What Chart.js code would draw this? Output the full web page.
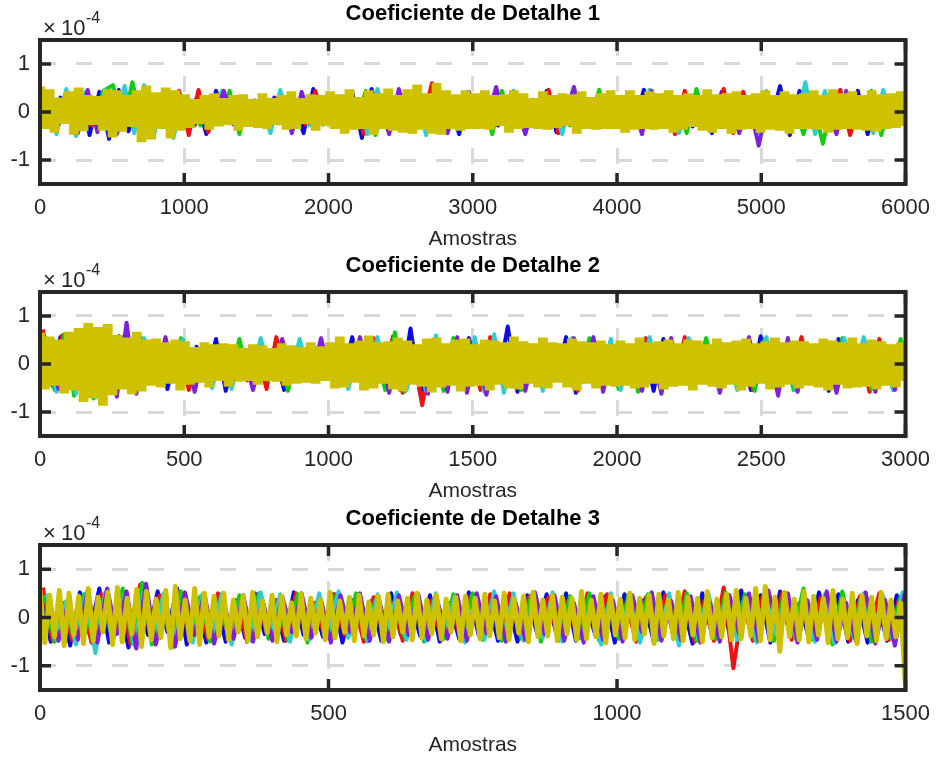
<!DOCTYPE html>
<html lang="pt-br">

<head>
    <meta charset="UTF-8">
    <title>Coeficientes de Detalhe</title>
    <script src="https://cdn.jsdelivr.net/npm/chart.js"></script>
    <style>
        body { margin: 0; background: #fff; }
        .painel { position: absolute; left: 0; }
    </style>
</head>

<body>
    <canvas id="detalhe1" class="painel" width="941" height="252" style="top:0px"></canvas>
    <canvas id="detalhe2" class="painel" width="941" height="252" style="top:252px"></canvas>
    <canvas id="detalhe3" class="painel" width="941" height="253" style="top:505px"></canvas>
</body>

</html>

<script>
    // valores em unidades de 1e-6 (o eixo mostra x10^-4, por isso divide por 100)
    const ticksY = [-1, 0, 1];
    const ticksX1 = [0, 1000, 2000, 3000, 4000, 5000, 6000];
    const ticksX2 = [0, 500, 1000, 1500, 2000, 2500, 3000];
    const ticksX3 = [0, 500, 1000, 1500];

    // ---- Detalhe 1 (6000 amostras)
    const d1Amarelo = [48,-30,42,-38,25,-20,38,-42,46,-35,30,-22,28,-34,42,-48,40,-36,30,-26,40,-58,50,-52,36,-30,46,-50,40,-34,
        32,-28,22,-20,30,-32,34,-25,24,-22,30,-34,32,-26,22,-28,34,-30,24,-22,30,-32,38,-30,24,-20,32,-34,30,-24,
        38,-30,32,-40,42,-32,26,-30,40,-42,34,-30,44,-34,30,-38,42,-40,52,-32,34,-40,55,-42,40,-30,32,-34,40,-30,
        34,-30,40,-32,30,-24,32,-38,40,-30,34,-28,24,-30,38,-32,30,-28,34,-24,32,-40,38,-30,26,-32,34,-30,40,-30,
        30,-38,40,-32,30,-30,38,-32,34,-30,40,-38,30,-32,34,-26,30,-34,42,-38,32,-30,34,-40,38,-32,30,-30,34,-38,
        40,-32,30,-34,38,-40,32,-30,34,-30,40,-32,30,-38,42,-32,34,-30,38,-32,30,-34,40,-36,32,-30,34,-28,38,-24];
    const d1Azul = [20,-24,30,-18,44,-48,42,-56,46,-40,22,-18,26,-30,20,-24,28,-46,44,-22,18,-26,24,-20,30,-28,22,-44,48,-26,
        24,-20,42,-54,48,-24,20,-18,26,-22,28,-24,20,-46,42,-20,24,-28,22,-18,26,-30,44,-42,20,-24,18,-26,30,-22,
        20,-24,46,-22,28,-18,24,-30,22,-44,42,-20,26,-24,18,-22,54,-48,44,-20,24,-18,28,-26,44,-46,22,-20,26,-24];
    const d1Vermelho = [18,-22,26,-20,24,-28,20,-26,22,-18,26,-24,20,-28,44,-48,46,-42,24,-20,18,-26,22,-24,28,-20,24,-26,44,-22,
        20,-24,26,-46,22,-18,24,-20,28,-26,60,-42,24,-20,26,-22,18,-24,20,-28,22,-18,46,-44,20,-26,24,-22,18,-20,
        26,-24,22,-28,20,-46,44,-22,26,-20,48,-44,42,-26,22,-18,24,-20,26,-22,18,-24,46,-48,22,-20,26,-24,20,-18];
    const d1Verde = [22,-26,20,-24,28,-22,44,56,-30,62,-24,20,-26,22,-18,24,-28,20,-22,44,-46,22,-20,26,-24,18,-22,26,-28,20,
        -24,22,-20,44,-48,26,-22,18,-24,20,-26,22,-28,20,-24,26,-46,44,-22,20,-18,24,-26,22,-28,20,-24,46,-22,18,
        -20,26,-24,22,-18,20,-44,48,-26,22,-20,24,-22,26,-20,18,-24,22,-46,20,-66,24,-26,20,-22,44,-48,22,-20,24];
    const d1Ciano = [44,-46,48,-50,42,-26,46,-48,54,-44,56,-52,46,-54,24,-20,26,-22,44,-24,20,-26,22,-44,46,-20,24,-28,22,-18,
        26,-20,24,-46,48,-22,20,-26,44,-48,46,-24,20,-22,26,-18,24,-20,44,-22,26,-24,20,-46,42,-20,24,-22,26,-18,
        20,-24,46,-22,20,-44,24,-26,22,-20,26,-18,24,-46,44,-22,20,-24,62,-46,44,-22,26,-20,24,-44,46,-22,20,-24];
    const d1Roxo = [22,-26,20,-44,46,-42,24,-46,20,-24,18,-22,26,-20,24,-28,22,-18,44,-26,20,-24,22,-20,26,-44,42,-22,24,-20,
        26,-24,22,-20,28,-46,48,-24,50,-22,46,-44,24,-20,26,-22,52,-24,20,-46,24,-22,20,-26,52,-24,20,-22,26,-18,
        24,-46,44,-20,22,-26,20,-24,22,-18,26,-44,20,-70,24,-22,26,-20,22,-24,20,-46,44,-22,26,-24,20,-22,24,-20];

    // ---- Detalhe 2 (3000 amostras)
    const d2Amarelo = [60,-48,52,-40,46,-56,62,-50,70,-74,80,-66,72,-82,78,-60,55,-48,50,-58,62,-52,46,-40,48,
        -44,40,-36,46,-50,42,-38,30,-34,40,-44,36,-30,38,-42,36,-32,28,-30,36,-38,34,-30,28,-32,38,-40,34,-36,30,-34,40,-36,32,-30,
        40,-46,52,-44,38,-34,44,-50,54,-46,40,-36,42,-48,50,-52,44,-38,36,-42,48,-54,50,-44,38,-40,46,-52,48,-42,
        36,-40,46,-50,44,-38,40,-46,52,-48,42,-36,38,-44,50,-46,40,-34,38,-44,48,-50,42,-36,40,-46,44,-40,36,-42,
        44,-40,38,-46,50,-44,40,-36,42,-48,46,-42,38,-40,46,-50,44,-38,36,-42,48,-46,40,-38,44,-50,48,-42,38,-36,
        42,-48,50,-44,40,-38,44,-46,42,-40,38,-44,48,-50,44,-38,40,-46,50,-44,38,-42,46,-48,42,-40,36,-44,40,-30];
    const d2Azul = [30,-34,56,-50,62,-58,36,-30,58,-34,30,-26,34,-52,28,-32,36,-30,52,-56,26,-30,34,-28,32,-54,30,-26,34,-30,
        28,-32,56,-30,26,-34,30,-54,74,-62,32,-28,30,-34,54,-30,26,-32,78,-58,30,-34,28,-26,56,-60,32,-28,30,-34,
        26,-30,34,-56,52,-28,30,-32,26,-30,34,-28,30,-54,58,-32,28,-30,34,-26,30,-56,52,-28,32,-30,34,-26,30,-28];
    const d2Vermelho = [72,-46,60,-30,34,-62,64,-28,30,-34,56,-30,28,-32,34,-54,30,-28,32,-26,30,-34,28,-52,56,-30,26,-32,34,-28,
        30,-26,32,-30,54,-32,58,-60,30,-86,32,-28,30,-34,26,-54,56,-30,28,-32,34,-30,26,-28,32,-56,30,-26,34,-30,
        28,-32,54,-30,26,-34,56,-28,30,-32,34,-26,30,-54,28,-32,30,-28,56,-30,26,-34,32,-28,30,-58,52,-30,28,-26];
    const d2Verde = [58,-54,62,-66,70,-72,36,-30,56,-58,30,-34,28,-30,54,-32,26,-30,34,-28,52,-30,28,-34,30,-56,32,-28,30,-26,
        34,-30,28,-32,30,-54,66,-58,30,-28,32,-56,54,-30,28,-34,30,-26,32,-54,28,-30,34,-26,30,-32,54,-30,28,-52,
        30,-58,28,-32,34,-30,26,-28,54,-30,32,-28,30,-56,52,-30,28,-54,30,-26,32,-30,54,-28,30,-52,28,-30,52,-28];
    const d2Ciano = [52,-58,56,-62,74,-70,60,-30,34,-28,54,-30,28,-32,52,-30,26,-50,30,-52,28,-30,54,-28,32,-30,52,-26,30,-28,
        34,-52,30,-28,56,-30,26,-54,32,-56,60,-30,28,-52,56,-58,62,-60,30,-28,32,-56,30,-28,54,-30,26,-32,52,-54,
        28,-30,56,-32,28,-30,54,-28,30,-32,26,-54,30,-28,56,-30,28,-54,30,-32,28,-30,54,-28,56,-30,32,-54,30,-28];
    const d2Roxo = [46,-52,58,-32,62,-66,70,-68,86,-62,30,-28,56,-32,28,-58,30,-26,34,-30,28,-54,30,-28,52,-30,26,-32,54,-30,
        28,-32,56,-30,28,-60,30,-28,32,-62,30,-58,56,-60,28,-64,30,-28,32,-56,30,-34,28,-30,54,-32,56,-58,30,-28,
        32,-56,30,-62,54,-30,28,-32,30,-60,28,-30,56,-32,28,-66,54,-58,30,-28,32,-60,30,-28,32,-58,28,-54,30,-28];

    // ---- Detalhe 3 (1500 amostras)
    const d3Amarelo = [58,-52,46,-40,56,-58,50,-36,44,-54,60,-48,42,-30,52,-56,62,-50,40,-34,58,-60,54,-46,38,-42,56,-62,64,-44,36,-48,60,-56,50,-40,
        44,-38,50,-46,36,-30,44,-48,52,-40,34,-32,46,-50,44,-36,30,-38,48,-44,40,-32,36,-46,52,-42,34,-30,42,-48,
        46,-38,32,-36,44,-50,48,-40,34,-30,40,-46,50,-42,36,-34,46,-44,38,-30,42,-48,44,-36,
        40,-44,48,-38,34,-42,50,-46,38,-32,44,-50,52,-40,36,-38,46,-48,42,-34,40,-46,54,-44,36,-40,48,-52,44,-36,
        38,-42,50,-46,40,-34,46,-54,48,-38,36,-44,52,-48,42,-36,40,-50,54,-42,38,-40,48,-46,56,-44,40,-38,60,-48,
        64,-46,42,-70,52,-40,38,-46,54,-50,44,-36,40,-52,56,-44,38,-42,50,-54,46,-38,42,-48,52,-44,36,-40,30,-144];
    const d3Azul = [54,-50,36,-58,52,-34,60,-52,30,-62,50,-36,54,-30,60,-56,34,-52,30,-50,36,-42,50,-34,30,-48,52,-36,30,-40,
        48,-52,36,-30,34,-48,50,-36,30,-38,46,-50,30,-44,52,-36,30,-48,34,-50,46,-32,48,-34,50,-48,30,-36,44,-52,
        48,-30,36,-50,52,-34,30,-54,50,-36,34,-48,56,-30,46,-52,54,-36,30,-46,52,-34,48,-50,36,-52,30,-48,46,-40];
    const d3Vermelho = [62,-48,30,-46,34,-52,48,-32,50,-54,68,-30,46,-34,52,-36,30,-46,50,-32,34,-50,44,-30,36,-48,50,-34,30,-40,
        48,-36,30,-50,42,-34,30,-48,50,-32,36,-46,30,-48,46,-34,48,-30,50,-36,44,-30,42,-48,34,-44,50,-32,48,-36,
        30,-50,42,-34,46,-30,54,-50,34,-48,62,-105,30,-48,44,-36,50,-46,34,-44,42,-50,30,-48,44,-32,50,-46,36,-44];
    const d3Verde = [46,-50,30,-44,48,-56,34,-48,60,-52,72,-56,30,-46,54,-34,44,-50,30,-42,46,-36,50,-44,30,-46,48,-52,34,-40,
        46,-30,50,-44,36,-46,30,-42,44,-50,36,-44,48,-30,50,-46,34,-48,30,-44,46,-50,30,-42,44,-36,50,-48,30,-44,
        46,-34,48,-46,30,-42,50,-48,36,-44,52,-30,48,-46,34,-48,50,-32,60,-46,30,-56,54,-34,46,-50,30,-42,44,-40];
    const d3Ciano = [50,-46,34,-56,48,-74,52,-30,46,-58,54,-36,50,-62,30,-52,48,-34,50,-56,36,-48,52,-30,48,-50,34,-46,50,-30,
        54,-42,30,-50,48,-36,52,-46,30,-48,50,-34,46,-52,30,-46,54,-36,50,-48,30,-42,52,-50,36,-44,30,-56,50,-34,
        44,-52,30,-46,50,-58,36,-44,52,-30,48,-46,30,-52,50,-36,46,-44,30,-50,48,-54,34,-42,50,-30,44,-46,52,-36];
    const d3Roxo = [44,-48,30,-46,56,-52,60,-34,54,-64,70,-56,30,-60,52,-36,50,-54,30,-44,46,-50,34,-48,44,-30,50,-42,36,-52,
        46,-30,50,-48,34,-50,46,-36,48,-46,30,-44,46,-48,50,-32,44,-50,30,-46,52,-34,46,-48,30,-52,44,-46,36,-50,
        46,-30,52,-48,34,-46,44,-52,30,-50,46,-34,50,-48,56,-30,50,-52,36,-46,54,-50,30,-48,52,-54,36,-58,48,-52];

    const cores = {
        azul: '#0a0ae6',
        vermelho: '#ee1111',
        verde: '#11cc11',
        ciano: '#2ecdd4',
        roxo: '#7e1ee0',
        amarelo: '#cdc100'
    };

    const fonte = '"Liberation Sans", Arial, sans-serif';
    const corEixo = '#262626';

    // transforma a lista de valores em pontos {x, y}
    function montarSerie(valores, xMax, fase) {
        const passo = xMax / (valores.length - 1);
        return valores.map(function (v, i) {
            return { x: (i + fase) * passo, y: v / 100 };
        });
    }

    // moldura preta com marcas para dentro, e o expoente x10^-4
    const moldura = {
        id: 'moldura',
        afterDatasetsDraw(chart) {
            const ctx = chart.ctx;
            const a = chart.chartArea;
            const sx = chart.scales.x;
            const sy = chart.scales.y;
            ctx.save();
            ctx.strokeStyle = corEixo;
            ctx.lineWidth = 3.5;
            ctx.beginPath();
            sx.ticks.forEach(function (t) {
                const px = sx.getPixelForValue(t.value);
                ctx.moveTo(px, a.top); ctx.lineTo(px, a.top + 11);
                ctx.moveTo(px, a.bottom); ctx.lineTo(px, a.bottom - 11);
            });
            sy.ticks.forEach(function (t) {
                const py = sy.getPixelForValue(t.value);
                ctx.moveTo(a.left, py); ctx.lineTo(a.left + 11, py);
                ctx.moveTo(a.right, py); ctx.lineTo(a.right - 11, py);
            });
            ctx.stroke();
            ctx.lineWidth = 4;
            ctx.strokeRect(a.left, a.top, a.right - a.left, a.bottom - a.top);

            ctx.fillStyle = corEixo;
            ctx.textBaseline = 'alphabetic';
            ctx.font = '22px ' + fonte;
            ctx.fillText('\u00d7', a.left + 3, a.top - 5);
            ctx.fillText('10', a.left + 21, a.top - 5);
            ctx.font = '16px ' + fonte;
            ctx.fillText('-4', a.left + 46, a.top - 17);
            ctx.restore();
        }
    };

    function criarGrafico(id, titulo, xMax, ticksX, series) {
        // 'degrau': troca de sinal vira traço vertical (faixa cheia, como o sinal denso)
        const datasets = series.map(function (s, k) {
            return {
                data: montarSerie(s.valores, xMax, s.fase),
                borderColor: s.cor,
                borderWidth: s.largura,
                stepped: s.degrau ? 'middle' : false,
                borderJoinStyle: s.degrau ? 'miter' : 'round',
                tension: 0,
                pointRadius: 0,
                fill: false,
                order: k
            };
        });

        const grade = { color: '#d9d9d9', lineWidth: 3, drawTicks: false };
        const borda = { display: false, dash: [16, 20] };
        const fonteTick = { family: fonte, size: 22 };

        new Chart(document.getElementById(id), {
            type: 'line',
            data: { datasets: datasets },
            options: {
                responsive: false,
                animation: false,
                devicePixelRatio: 1,
                layout: { padding: { left: 0, right: 28, top: 0, bottom: 0 } },
                plugins: {
                    legend: { display: false },
                    tooltip: { enabled: false },
                    title: {
                        display: true,
                        text: titulo,
                        color: '#000',
                        fullSize: false,
                        font: { family: fonte, size: 22, weight: 'bold', lineHeight: 1.2 },
                        padding: { top: 1, bottom: 12.6 }
                    }
                },
                scales: {
                    x: {
                        type: 'linear',
                        min: 0,
                        max: xMax,
                        afterBuildTicks: function (s) { s.ticks = ticksX.map(function (v) { return { value: v }; }); },
                        afterFit: function (s) { s.height = 68; },
                        ticks: { color: corEixo, font: fonteTick, padding: 11, maxRotation: 0, callback: function (v) { return String(v); } },
                        grid: grade,
                        border: borda,
                        title: { display: true, text: 'Amostras', color: corEixo, font: { family: fonte, size: 21 }, padding: 0 }
                    },
                    y: {
                        min: -1.5,
                        max: 1.5,
                        afterBuildTicks: function (s) { s.ticks = ticksY.map(function (v) { return { value: v }; }); },
                        afterFit: function (s) { s.width = 40; },
                        ticks: { color: corEixo, font: fonteTick, padding: 10, callback: function (v) { return String(v); } },
                        grid: grade,
                        border: borda
                    }
                }
            },
            plugins: [moldura]
        });
    }

    criarGrafico('detalhe1', 'Coeficiente de Detalhe 1', 6000, ticksX1, [
        { valores: d1Amarelo, cor: cores.amarelo, fase: 0, largura: 5, degrau: true },
        { valores: d1Roxo, cor: cores.roxo, fase: 0.9, largura: 4 },
        { valores: d1Ciano, cor: cores.ciano, fase: 0.7, largura: 4 },
        { valores: d1Verde, cor: cores.verde, fase: 0.5, largura: 4 },
        { valores: d1Vermelho, cor: cores.vermelho, fase: 0.3, largura: 4 },
        { valores: d1Azul, cor: cores.azul, fase: 0.1, largura: 4 }
    ]);

    criarGrafico('detalhe2', 'Coeficiente de Detalhe 2', 3000, ticksX2, [
        { valores: d2Amarelo, cor: cores.amarelo, fase: 0, largura: 5, degrau: true },
        { valores: d2Roxo, cor: cores.roxo, fase: 0.9, largura: 4 },
        { valores: d2Ciano, cor: cores.ciano, fase: 0.7, largura: 4 },
        { valores: d2Verde, cor: cores.verde, fase: 0.5, largura: 4 },
        { valores: d2Vermelho, cor: cores.vermelho, fase: 0.3, largura: 4 },
        { valores: d2Azul, cor: cores.azul, fase: 0.1, largura: 4 }
    ]);

    criarGrafico('detalhe3', 'Coeficiente de Detalhe 3', 1500, ticksX3, [
        { valores: d3Amarelo, cor: cores.amarelo, fase: 0, largura: 5 },
        { valores: d3Roxo, cor: cores.roxo, fase: 0.9, largura: 4 },
        { valores: d3Ciano, cor: cores.ciano, fase: 0.7, largura: 4 },
        { valores: d3Verde, cor: cores.verde, fase: 0.5, largura: 4 },
        { valores: d3Vermelho, cor: cores.vermelho, fase: 0.3, largura: 4 },
        { valores: d3Azul, cor: cores.azul, fase: 0.1, largura: 4 }
    ]);
</script>
